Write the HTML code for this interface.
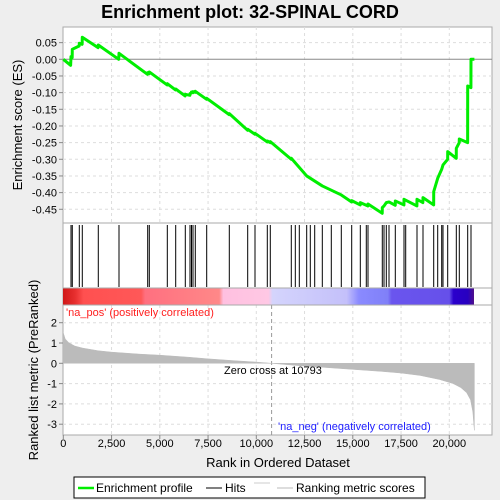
<!DOCTYPE html>
<html><head><meta charset="utf-8"><style>
body{margin:0;background:#eeeeee;}
svg{display:block;font-family:"Liberation Sans",sans-serif;}
</style></head><body>
<svg id="chart" width="500" height="500" viewBox="0 0 500 500">
<rect x="0" y="0" width="500" height="500" fill="#eeeeee"/>
<text x="250" y="18" text-anchor="middle" font-size="18" font-weight="bold" fill="#000">Enrichment plot: 32-SPINAL CORD</text>
<rect x="63" y="27" width="429" height="408" fill="#fff" stroke="#aaa"/>
<defs>
<linearGradient id="rankbar" x1="63" x2="474" gradientUnits="userSpaceOnUse">
<stop offset="0" stop-color="#d01818"/><stop offset="0.03" stop-color="#e83030"/><stop offset="0.05" stop-color="#ff5050"/>
<stop offset="0.19" stop-color="#ff5858"/><stop offset="0.2" stop-color="#ff7080"/><stop offset="0.38" stop-color="#ff8888"/>
<stop offset="0.39" stop-color="#ffc0e0"/><stop offset="0.5" stop-color="#ffc8e4"/><stop offset="0.51" stop-color="#d4d4fc"/>
<stop offset="0.69" stop-color="#c4c0fa"/><stop offset="0.72" stop-color="#8a8aff"/><stop offset="0.79" stop-color="#8080f8"/>
<stop offset="0.8" stop-color="#6a55ee"/><stop offset="0.94" stop-color="#6650ea"/><stop offset="0.95" stop-color="#2a00cc"/>
<stop offset="0.985" stop-color="#2800c0"/><stop offset="1" stop-color="#50108a"/>
</linearGradient>
</defs>
<g id="grid"></g>
<g id="axes"></g>
<rect x="63" y="288" width="411" height="17" fill="url(#rankbar)"/>
<line x1="63" y1="223" x2="492" y2="223" stroke="#aaa"/>
<line x1="63" y1="288" x2="492" y2="288" stroke="#aaa"/>
<line x1="63" y1="305" x2="492" y2="305" stroke="#aaa"/>
<g id="hits"></g>
<g id="metric"></g>
<g id="es"></g>
<text x="66" y="316" font-size="11" fill="#ff2020">'na_pos' (positively correlated)</text>
<text x="278" y="430" font-size="11" fill="#2020ff">'na_neg' (negatively correlated)</text>
<text x="224" y="374" font-size="11" fill="#000">Zero cross at 10793</text>
<text transform="translate(22,125) rotate(-90)" text-anchor="middle" font-size="13" fill="#000">Enrichment score (ES)</text>
<text transform="translate(38,370) rotate(-90)" text-anchor="middle" font-size="13" fill="#000">Ranked list metric (PreRanked)</text>
<text x="278" y="467" text-anchor="middle" font-size="13" fill="#000">Rank in Ordered Dataset</text>
<g>
<rect x="74" y="477" width="351" height="21" fill="#fff" stroke="#000"/>
<line x1="78" y1="488" x2="94" y2="488" stroke="#00ee00" stroke-width="2.5"/>
<text x="96" y="492" font-size="12">Enrichment profile</text>
<line x1="206" y1="488" x2="222" y2="488" stroke="#000"/>
<text x="225" y="492" font-size="12">Hits</text>
<line x1="254" y1="483" x2="270" y2="483" stroke="#ccc"/>
<line x1="277" y1="488" x2="293" y2="488" stroke="#bbb"/>
<text x="296" y="492" font-size="12">Ranking metric scores</text>
</g>
</svg>
<script>
const N = 21300;
const xTicks = [0,2500,5000,7500,10000,12500,15000,17500,20000];
const xTickLabels = ["0","2,500","5,000","7,500","10,000","12,500","15,000","17,500","20,000"];
const esTicks = [0.05,0,-0.05,-0.1,-0.15,-0.2,-0.25,-0.3,-0.35,-0.4,-0.45];
const esTickLabels = ["0.05","0.00","-0.05","-0.10","-0.15","-0.20","-0.25","-0.30","-0.35","-0.40","-0.45"];
const metricTicks = [2,1,0,-1,-2,-3];
const hitRanks = [399,466,829,984,1813,2886,4373,4456,5389,5824,6321,6565,6642,6720,6839,7430,8601,9554,9933,10570,10725,11813,12021,12228,12611,12798,13026,13420,13886,14404,14943,15389,15699,15788,16528,16617,16736,16876,17202,17653,17741,18326,18637,19192,19399,19606,19674,19917,20363,20518,20953,21124];
const esRanks = [0,380,399,460,466,820,829,975,984,1800,1813,2870,2886,4360,4373,4450,4456,5380,5389,5815,5824,6310,6321,6560,6565,6640,6642,6718,6720,6835,6839,7425,7430,8595,8601,9550,9554,9930,9933,10565,10570,10720,10725,11810,11813,12611,13420,14404,14940,14943,15385,15389,15785,15788,16525,16528,16617,16736,16876,17200,17202,17650,17653,18322,18326,18630,18637,19190,19192,19399,19606,19674,19915,19917,20360,20363,20515,20518,20950,20953,21120,21124,21300];
const esValues = [0,-0.018,0.008,0.005,0.03,0.04,0.048,0.045,0.066,0.035,0.043,0.0,0.018,-0.045,-0.04,-0.043,-0.038,-0.077,-0.073,-0.092,-0.089,-0.11,-0.105,-0.108,-0.103,-0.101,-0.098,-0.1,-0.097,-0.099,-0.096,-0.12,-0.117,-0.166,-0.163,-0.213,-0.21,-0.225,-0.222,-0.248,-0.245,-0.25,-0.247,-0.3,-0.297,-0.35,-0.38,-0.407,-0.428,-0.424,-0.437,-0.43,-0.44,-0.434,-0.462,-0.445,-0.44,-0.43,-0.428,-0.438,-0.425,-0.437,-0.42,-0.44,-0.42,-0.43,-0.415,-0.437,-0.397,-0.357,-0.33,-0.317,-0.3,-0.277,-0.297,-0.267,-0.25,-0.239,-0.25,-0.08,-0.085,0.0,0.0];
const metricRanks = [0,100,300,600,1000,1800,2500,4000,5000,6500,7500,9000,10000,10793,12000,13500,15000,16500,17500,18500,19500,20200,20600,20900,21100,21220,21270,21300];
const metricValues = [1.5,1.2,1.0,0.85,0.75,0.62,0.55,0.45,0.4,0.3,0.22,0.12,0.06,0,-0.1,-0.2,-0.3,-0.4,-0.48,-0.6,-0.8,-1.0,-1.2,-1.45,-1.8,-2.4,-3.0,-3.3];

const NS="http://www.w3.org/2000/svg";
const xS = r => 63.3 + r*0.0193;
const esY = v => 59.3 - v*333.3;
const mY = v => 363.3 - v*20.3;
function mk(tag, attrs, parent){const e=document.createElementNS(NS,tag);for(const k in attrs)e.setAttribute(k,attrs[k]);parent.appendChild(e);return e;}
const grid=document.getElementById('grid'), axes=document.getElementById('axes');
xTicks.forEach((t,i)=>{
  if(t>0){
    const g1=mk('line',{x1:xS(t),x2:xS(t),y1:27,y2:223,stroke:'#ddd','stroke-dasharray':'3,3'},grid);
    
    
    const g2=mk('line',{x1:xS(t),x2:xS(t),y1:305,y2:435,stroke:'#ddd','stroke-dasharray':'3,3'},grid);
    
    
  }
  mk('line',{x1:xS(t),x2:xS(t),y1:435,y2:439,stroke:'#888'},axes);
  const tx=mk('text',{x:xS(t),y:447,'text-anchor':'middle','font-size':'11'},axes);
  tx.textContent=xTickLabels[i];
  
  
});
esTicks.forEach((t,i)=>{
  const y=esY(t);
  if(t!==0){const g=mk('line',{x1:63,x2:492,y1:y,y2:y,stroke:'#ddd','stroke-dasharray':'3,3'},grid);
    
    }
  else {const z=mk('line',{x1:63,x2:492,y1:y,y2:y,stroke:'#888'},grid);
    
    }
  mk('line',{x1:59,x2:63,y1:y,y2:y,stroke:'#888'},axes);
  const tx=mk('text',{x:57,y:y+4,'text-anchor':'end','font-size':'11'},axes);
  tx.textContent=esTickLabels[i];
  
  
});
metricTicks.forEach(t=>{
  const y=mY(t);
  if(t!==0){const g=mk('line',{x1:63,x2:492,y1:y,y2:y,stroke:'#ddd','stroke-dasharray':'3,3'},grid);
    
    }
  mk('line',{x1:59,x2:63,y1:y,y2:y,stroke:'#888'},axes);
  const tx=mk('text',{x:57,y:y+4,'text-anchor':'end','font-size':'11'},axes);
  tx.textContent=String(t);
  
  
});
const zc=mk('line',{x1:xS(10793),x2:xS(10793),y1:305,y2:435,stroke:'#999','stroke-dasharray':'4,3'},grid);


const hits=document.getElementById('hits');
hitRanks.forEach(r=>{
  const l=mk('line',{x1:xS(r),x2:xS(r),y1:225,y2:287,stroke:'#000','stroke-width':'1'},hits);
  
  
});
const met=document.getElementById('metric');
let d='M'+xS(0)+','+mY(0);
metricRanks.forEach((r,i)=>{d+=' L'+xS(r).toFixed(2)+','+mY(metricValues[i]).toFixed(2);});
d+=' L'+xS(N)+','+mY(0)+' Z';
const area=mk('path',{d:d,fill:'#bbbbbb',stroke:'#bbbbbb','stroke-width':'0.5'},met);


const es=document.getElementById('es');
const pts=esRanks.map((r,i)=>xS(r).toFixed(2)+','+esY(esValues[i]).toFixed(2)).join(' ');
const pl=mk('polyline',{points:pts,fill:'none',stroke:'#00ee00','stroke-width':'3','stroke-linejoin':'round'},es);


</script>
</body></html>
